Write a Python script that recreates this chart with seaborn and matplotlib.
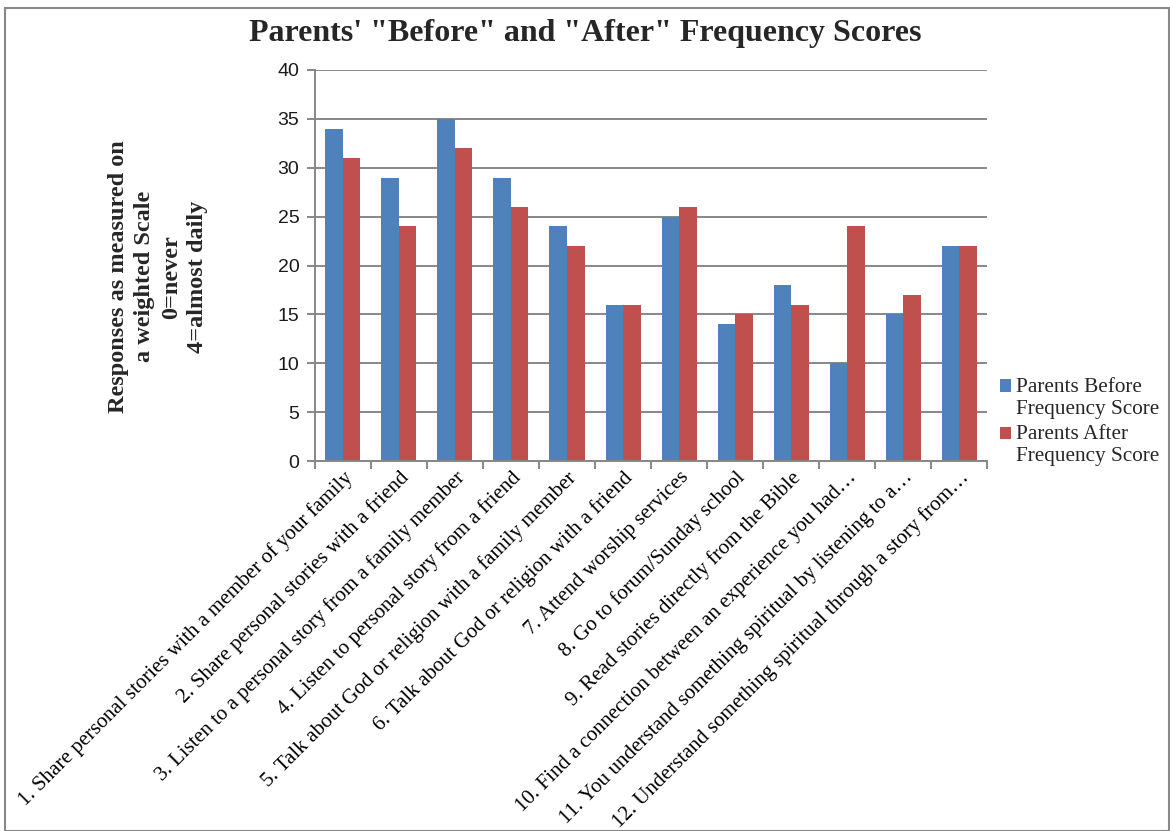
import matplotlib
matplotlib.use("Agg")
import matplotlib.pyplot as plt
from matplotlib.patches import Rectangle
import seaborn as sns
import pandas as pd

categories = [
    "1. Share personal stories with a member of your family",
    "2. Share personal stories with a friend",
    "3. Listen to a personal story from a family member",
    "4. Listen to personal story from a friend",
    "5. Talk about God or religion with a family member",
    "6. Talk about God or religion with a friend",
    "7. Attend worship services",
    "8. Go to forum/Sunday school",
    "9. Read stories directly from the Bible",
    "10. Find a connection between an experience you had\u2026",
    "11. You understand something spiritual by listening to a\u2026",
    "12. Understand something spiritual through a story from\u2026",
]
before_scores = [34, 29, 35, 29, 24, 16, 25, 14, 18, 10, 15, 22]
after_scores = [31, 24, 32, 26, 22, 16, 26, 15, 16, 24, 17, 22]
series_names = ["Parents Before\nFrequency Score", "Parents After\nFrequency Score"]
y_ticks = [0, 5, 10, 15, 20, 25, 30, 35, 40]

df = pd.DataFrame({
    "item": categories * 2,
    "score": before_scores + after_scores,
    "series": [series_names[0]] * len(categories) + [series_names[1]] * len(categories),
})

sns.set_theme(style="white")
serif = ["Liberation Serif", "DejaVu Serif"]
grid_col = "#878787"

fig = plt.figure(figsize=(11.7, 8.31), dpi=100)
ax = fig.add_axes([0.269, 0.4452, 0.575, 0.4706])

sns.barplot(data=df, x="item", y="score", hue="series", order=categories,
            hue_order=series_names, palette=["#4F81BD", "#C0504D"],
            width=0.625, saturation=1, linewidth=0, ax=ax, legend=True)

ax.set_ylim(0, 40)
ax.set_xlim(-0.5, len(categories) - 0.5)
ax.set_yticks(y_ticks)
ax.set_yticklabels([str(v) for v in y_ticks], fontfamily="Liberation Sans",
                   fontsize=14, color="#1a1a1a")
ax.yaxis.grid(True, color=grid_col, linewidth=1.4)
ax.set_axisbelow(True)

# Category ticks sit on the boundaries between groups
ax.set_xticks(range(len(categories)))
ax.set_xticklabels(categories, rotation=45, ha="right", rotation_mode="anchor",
                   fontfamily=serif, fontsize=15.1, color="black")
ax.tick_params(axis="x", length=0, pad=5)
ax.set_xticks([i - 0.5 for i in range(len(categories) + 1)], minor=True)
ax.tick_params(axis="x", which="minor", length=6, color=grid_col, width=1.4,
               direction="out", bottom=True)
ax.tick_params(axis="y", length=6, color=grid_col, width=1.4, direction="out",
               left=True, pad=5)

for side in ["top", "right"]:
    ax.spines[side].set_visible(False)
for side in ["left", "bottom"]:
    ax.spines[side].set_color(grid_col)
    ax.spines[side].set_linewidth(1.4)

ax.set_xlabel("")
ax.set_ylabel("")

fig.text(0.135, 0.667,
         "Responses as measured on\na weighted Scale\n0=never\n4=almost daily",
         rotation=90, ha="center", va="center", multialignment="center",
         fontfamily=serif, fontweight="bold", fontsize=17.5, linespacing=1.35)

fig.text(0.5, 0.96, "Parents' \"Before\" and \"After\" Frequency Scores",
         ha="center", va="center", fontfamily=serif, fontweight="bold",
         fontsize=23)

leg_size = 15.3
leg = ax.legend(loc="center left", bbox_to_anchor=(1.006, 0.1), frameon=False,
                prop={"family": serif, "size": leg_size}, handlelength=0.5,
                handleheight=0.5, handletextpad=0.25, labelspacing=0.3,
                borderaxespad=0)
for txt in leg.get_texts():
    txt.set_linespacing(1.2)
# Put each colour key beside the first line of its two-line label
for patch in leg.legend_handles:
    patch.set_y(patch.get_y() + 0.58 * leg_size)

fig.patches.append(Rectangle((0.004, 0.0), 0.995, 0.99, transform=fig.transFigure,
                             fill=False, edgecolor="#888888", linewidth=1.5))

fig.savefig("out.png", dpi=100)
